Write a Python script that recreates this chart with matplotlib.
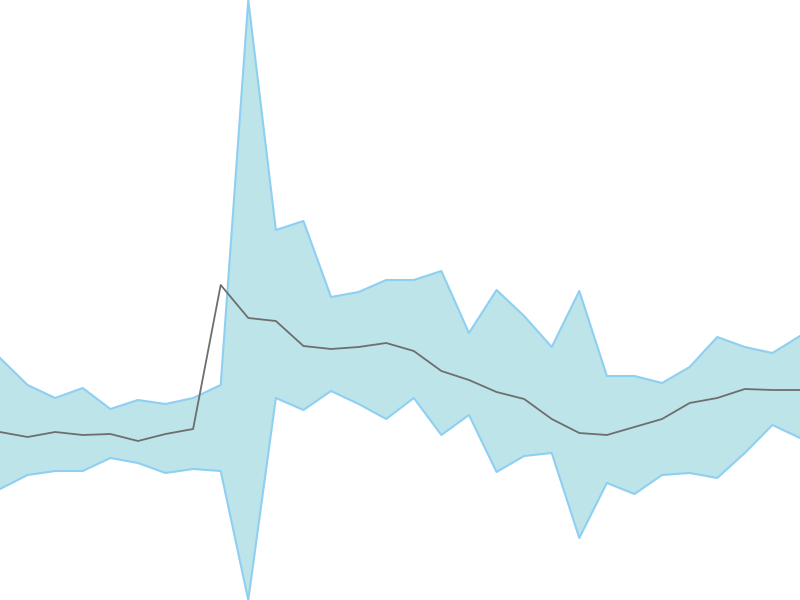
import numpy as np
import matplotlib
matplotlib.use("Agg")
import matplotlib.pyplot as plt

# values (arbitrary units, 0 = bottom, 600 = top)
steps = np.arange(30)
upper = [242, 215, 202, 212, 191, 200, 196, 202, 215, 600,
         370, 379, 303, 308, 320, 320, 329, 267, 310, 284,
         253, 309, 224, 224, 217, 233, 263, 253, 247, 264]
lower = [111, 125, 129, 129, 142, 137, 127, 131, 129, 0,
         202, 190, 209, 196, 181, 202, 165, 185, 128, 144,
         147, 62, 117, 106, 125, 127, 122, 147, 175, 162]
mean = [168, 163, 168, 165, 166, 159, 166, 171, 315, 282,
        279, 254, 251, 253, 257, 249, 229, 220, 208, 201,
        181, 167, 165, 173, 181, 197, 202, 211, 210, 210]

fig = plt.figure(figsize=(8, 6), dpi=100)
ax = fig.add_axes([0, 0, 1, 1])

ax.fill_between(steps, lower, upper, color="#bde4e9", linewidth=0)
ax.plot(steps, upper, color="#8ecff2", linewidth=1.5)
ax.plot(steps, lower, color="#8ecff2", linewidth=1.5)
ax.plot(steps, mean, color="#6e6e6e", linewidth=1.3)

ax.set_xlim(steps[0], steps[-1])
ax.set_ylim(0, 600)
ax.axis("off")

fig.savefig("out.png", dpi=100)
